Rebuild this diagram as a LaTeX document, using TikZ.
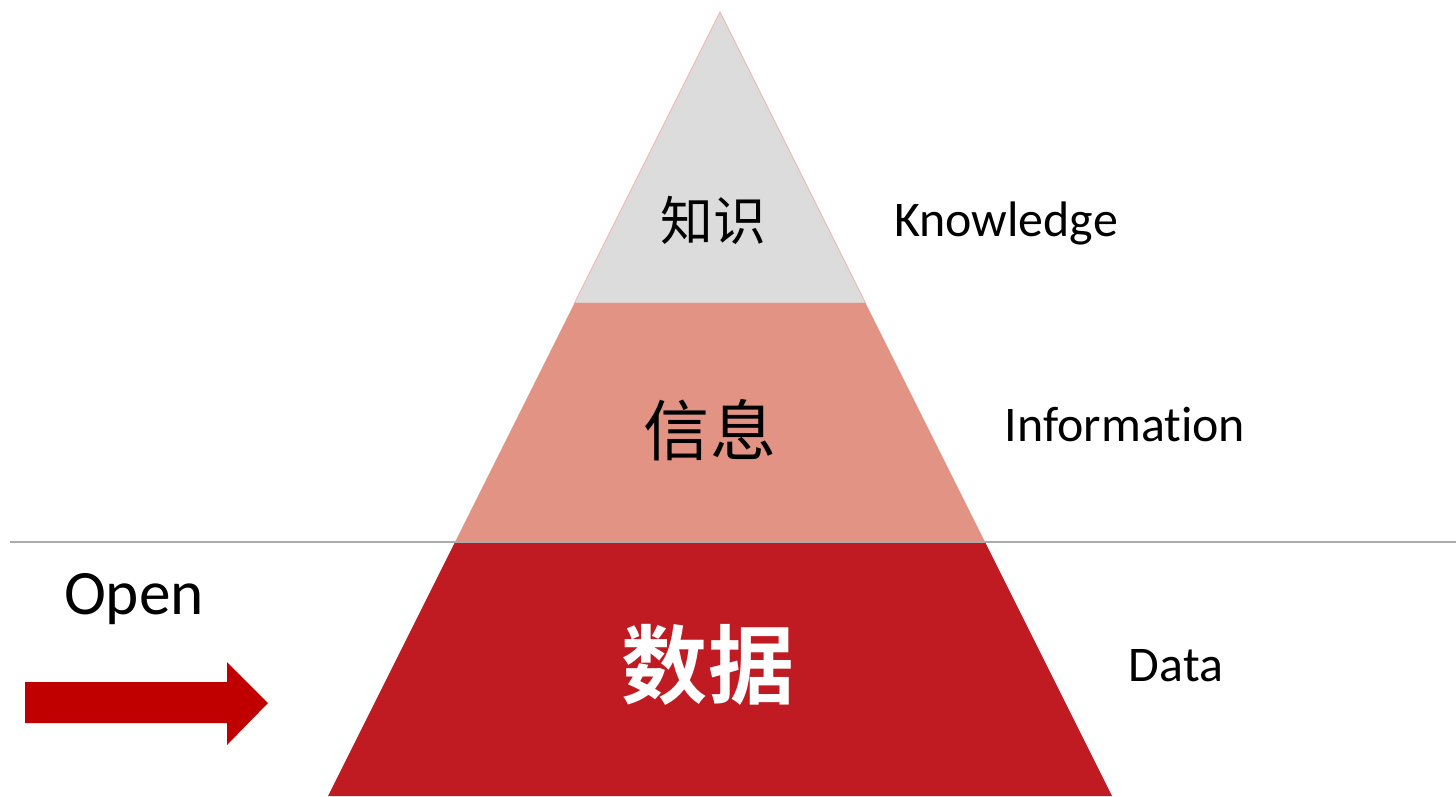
\documentclass[tikz,border=0pt]{standalone}
\usepackage{fontspec}
\setmainfont{Carlito}[Ligatures=NoCommon]
\newfontfamily\cjk{Noto Sans CJK SC}
\newfontfamily\cjkbold{Noto Sans CJK SC}[UprightFont=* Bold]
\definecolor{topgray}{HTML}{DCDCDC}
\definecolor{midsalmon}{HTML}{E29384}
\definecolor{basered}{HTML}{C01A23}
\definecolor{arrowred}{HTML}{C00000}
\definecolor{rulegray}{HTML}{ABABAB}

\begin{document}
\begin{tikzpicture}
\tikzset{en/.style={font=\fontsize{14.2}{17}\selectfont},
  zh/.style={inner sep=0pt}}
\useasboundingbox (0,0) rectangle (14.56,7.96);
% Pyramid layers
\fill[topgray, draw=midsalmon!70, line width=0.2pt] (7.20,7.84) -- (8.655,4.93) -- (5.745,4.93) -- cycle;
\fill[midsalmon] (5.745,4.93) -- (8.655,4.93) -- (9.85,2.54) -- (4.55,2.54) -- cycle;
\fill[basered] (4.55,2.54) -- (9.85,2.54) -- (11.12,0) -- (3.28,0) -- cycle;
% Rule
\draw[rulegray, line width=0.6pt] (0.10,2.54) -- (14.56,2.54);
% Arrow
\fill[arrowred] (0.25,0.73) -- (2.27,0.73) -- (2.27,0.51) -- (2.68,0.93)
  -- (2.27,1.34) -- (2.27,1.14) -- (0.25,1.14) -- cycle;
% Text
\node[zh, font=\cjk\fontsize{15}{18}\selectfont] (knowzh) at (7.13,5.76) {知识};
\node[zh, font=\cjk\fontsize{18.8}{22}\selectfont] (infozh) at (7.10,3.66) {信息};
\node[zh, font=\cjkbold\fontsize{24.5}{29}\selectfont, text=white] (datazh) at (7.08,1.31) {数据};
\foreach \n/\x/\y/\t in {knowen/10.06/5.73/Knowledge, infoen/11.25/3.71/Information, dataen/11.76/1.30/Data}
  \node[en] (\n) at (\x,\y) {\t};
\node[font=\fontsize{18}{22}\selectfont] (open) at (1.34,1.97) {Open};
\end{tikzpicture}
\end{document}
